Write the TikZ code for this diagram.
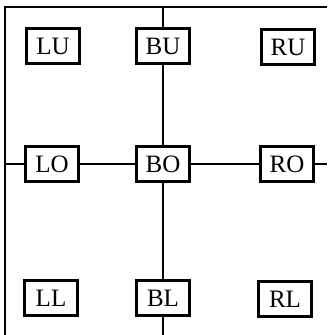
\documentclass[tikz,border=0pt]{standalone}
\usepackage{fontspec}
\setmainfont{Liberation Serif}
\begin{document}
\begin{tikzpicture}[x=1pt, y=-1pt, line width=1.8pt, every node/.style={draw,fill=white,line width=2.6pt,minimum width=53pt,minimum height=35pt,inner sep=0pt,font=\fontsize{25}{29}\selectfont}]
          \useasboundingbox (0,0) rectangle (327,335);
          \coordinate (tl) at (5,7);
          \coordinate (tr) at (327,7);
          \coordinate (bl) at (5,335);
          \coordinate (tm) at (163,7);
          \coordinate (bm) at (163,335);
          \coordinate (lm) at (5,164);
          \coordinate (rm) at (327,164);
          \draw (bl) -- (tl) -- (tr);
          \node (lu) at (53,46) {LU};
          \node (bu) at (163,46) {BU};
          \node (ru) at (288,47) {RU};
          \node (lo) at (52,164) {LO};
          \node (bo) at (163,164) {BO};
          \node (ro) at (287,164) {RO};
          \node (ll) at (51,298) {LL};
          \node (bl2) at (163,298) {BL};
          \node (rl) at (285,299) {RL};
          \draw (tm) -- (bu);
          \draw (bu) -- (bo);
          \draw (bo) -- (bl2);
          \draw (bl2) -- (bm);
          \draw (lm) -- (lo);
          \draw (lo) -- (bo);
          \draw (bo) -- (ro);
          \draw (ro) -- (rm);
        \end{tikzpicture}
\end{document}
